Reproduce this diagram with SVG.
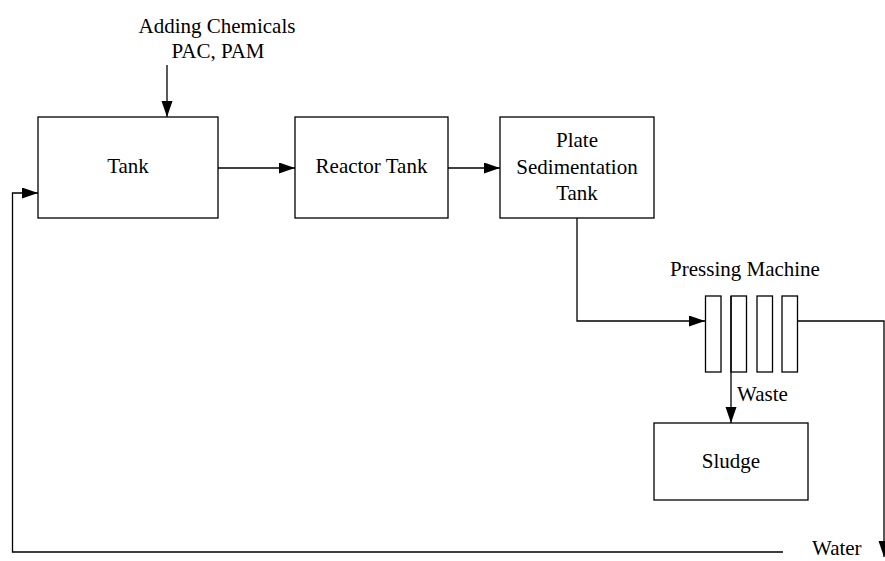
<svg xmlns="http://www.w3.org/2000/svg" width="885" height="561" viewBox="0 0 885 561">
  <defs>
    <marker id="arrow" markerUnits="userSpaceOnUse" markerWidth="17" markerHeight="12" refX="16" refY="5.5" orient="auto">
      <path d="M0,0 L16,5.5 L0,11 z" fill="#000"/>
    </marker>
  </defs>
  <style>
    .box { fill: #fff; stroke: #000; stroke-width: 1.3; }
    .line { fill: none; stroke: #000; stroke-width: 1.3; }
    .arr { marker-end: url(#arrow); }
    text { font-family: 'Liberation Serif', 'Times New Roman', serif; font-size: 21px; fill: #000; }
    .c { text-anchor: middle; }
  </style>
  <rect width="885" height="561" fill="#fff"/>

  <!-- connectors -->
  <g id="connectors">
    <line class="line arr" x1="167" y1="65" x2="167" y2="117"/>
    <line class="line arr" x1="218" y1="168" x2="295" y2="168"/>
    <line class="line arr" x1="448" y1="168" x2="500" y2="168"/>
    <polyline class="line arr" points="577,218 577,321 705,321"/>
    <polyline class="line arr" points="797,321 884,321 884,557"/>
    <line class="line arr" x1="731" y1="372" x2="731" y2="423"/>
    <polyline class="line arr" points="783,552 12.5,552 12.5,193 38,193"/>
  </g>

  <!-- chemical dosing label -->
  <g id="chemicals">
    <text class="c" x="217" y="33">Adding Chemicals</text>
    <text class="c" x="218" y="58">PAC, PAM</text>
  </g>

  <g id="tank">
    <rect class="box" x="38" y="117" width="180" height="101"/>
    <text class="c" x="128" y="173">Tank</text>
  </g>

  <g id="reactor-tank">
    <rect class="box" x="295" y="117" width="153" height="101"/>
    <text class="c" x="371.5" y="173">Reactor Tank</text>
  </g>

  <g id="plate-sedimentation-tank">
    <rect class="box" x="500" y="117" width="154" height="101"/>
    <text class="c" x="577" y="147">Plate</text>
    <text class="c" x="577" y="174">Sedimentation</text>
    <text class="c" x="577" y="200">Tank</text>
  </g>

  <g id="pressing-machine">
    <text class="c" x="745" y="276">Pressing Machine</text>
    <rect class="box" x="705.5" y="296" width="15.5" height="76"/>
    <rect class="box" x="731" y="296" width="15.5" height="76"/>
    <rect class="box" x="757" y="296" width="15.5" height="76"/>
    <rect class="box" x="782" y="296" width="15.5" height="76"/>
    <line class="line" x1="731" y1="296" x2="731" y2="372"/>
  </g>

  <g id="waste-label">
    <text x="737" y="401">Waste</text>
  </g>

  <g id="sludge">
    <rect class="box" x="654" y="423" width="154" height="77"/>
    <text class="c" x="731" y="468">Sludge</text>
  </g>

  <g id="water-label">
    <text x="812" y="555">Water</text>
  </g>
</svg>
